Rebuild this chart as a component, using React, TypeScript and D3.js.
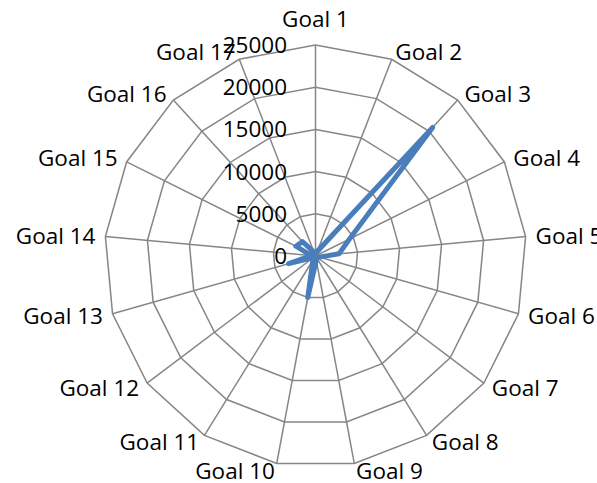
import React from "react";
import * as d3 from "d3";

// Categories, series values and radial tick labels
const goals = [
  "Goal 1", "Goal 2", "Goal 3", "Goal 4", "Goal 5", "Goal 6", "Goal 7", "Goal 8", "Goal 9",
  "Goal 10", "Goal 11", "Goal 12", "Goal 13", "Goal 14", "Goal 15", "Goal 16", "Goal 17",
];
const values = [400, 600, 20600, 4500, 2800, 500, 300, 300, 500, 5000, 600, 300, 3300, 500, 2600, 2300, 500];
const ticks = [0, 5000, 10000, 15000, 20000, 25000];

const W = 597;
const H = 483;
const CX = 315.5;
const CY = 256;
const R = 211;
const FONT = "'Open Sans', 'Liberation Sans', sans-serif";
const FS = 22.5;

export default function App() {
  const n = goals.length;
  const r = d3.scaleLinear().domain([0, 25000]).range([0, R]);
  const angle = (i: number) => (i * 2 * Math.PI) / n;
  const pt = (i: number, v: number): [number, number] => {
    const a = angle(i);
    return [CX + r(v) * Math.sin(a), CY - r(v) * Math.cos(a)];
  };

  const ring = (v: number) =>
    d3.line<number>()
      .x((i) => pt(i, v)[0])
      .y((i) => pt(i, v)[1])
      .curve(d3.curveLinearClosed)(d3.range(n)) as string;

  const series = d3.line<number>()
    .x((v, i) => pt(i, v)[0])
    .y((v, i) => pt(i, v)[1])
    .curve(d3.curveLinearClosed)(values) as string;

  const gridColor = "#868686";

  return (
    <svg
      width={W}
      height={H}
      style={{ position: "absolute", left: 0, top: 0, background: "#fff" }}
    >
      <g fill="none" stroke={gridColor} strokeWidth={1.5}>
        {ticks.slice(1).map((t) => (
          <path key={t} d={ring(t)} />
        ))}
        {goals.map((g, i) => {
          const [x, y] = pt(i, 25000);
          return <line key={g} x1={CX} y1={CY} x2={x} y2={y} />;
        })}
      </g>

      <path
        d={series}
        fill="none"
        stroke="#4a7ebb"
        strokeWidth={5}
        strokeLinejoin="round"
        strokeLinecap="round"
      />

      <g fontFamily={FONT} fontSize={FS} fill="#000">
        {ticks.map((t) => (
          <text key={t} x={CX - 28.5} y={CY - r(t) + 8} textAnchor="end">
            {t}
          </text>
        ))}
        {goals.map((g, i) => {
          const a = angle(i);
          const dx = Math.sin(a);
          const dy = -Math.cos(a);
          const [vx, vy] = pt(i, 25000);
          if (Math.abs(dx) < 0.05) {
            return (
              <text key={g} x={vx} y={dy < 0 ? vy - 17.7 : vy + 34} textAnchor="middle">
                {g}
              </text>
            );
          }
          return (
            <text
              key={g}
              x={vx + 10 * dx}
              y={vy + 8 * dy + 8}
              textAnchor={dx > 0 ? "start" : "end"}
            >
              {g}
            </text>
          );
        })}
      </g>
    </svg>
  );
}
